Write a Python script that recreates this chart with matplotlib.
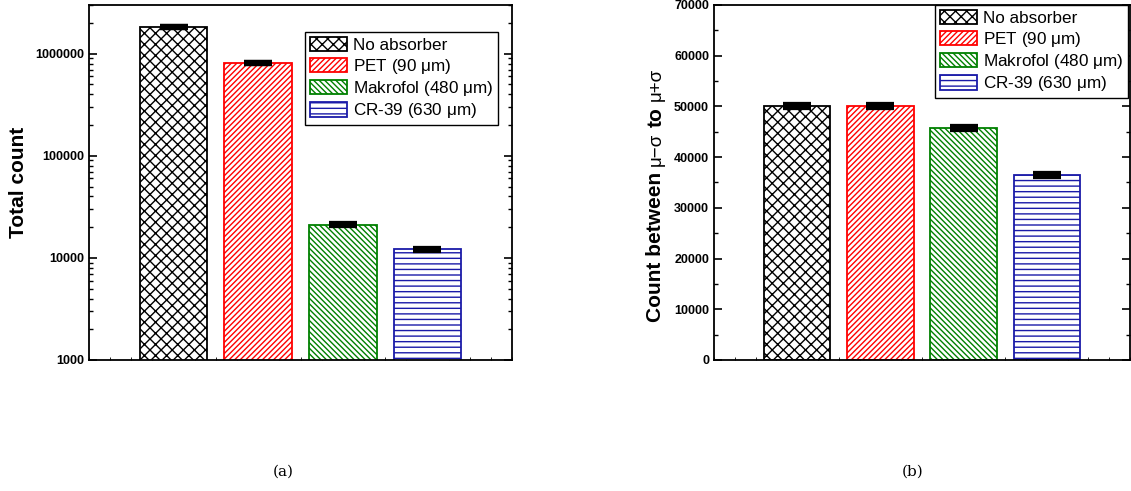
import matplotlib
matplotlib.use("Agg")
import matplotlib.pyplot as plt
from matplotlib.ticker import FixedLocator, MultipleLocator, LogLocator, NullFormatter

plt.rcParams['font.family'] = ['Liberation Sans', 'DejaVu Sans']
plt.rcParams['mathtext.fontset'] = 'custom'
plt.rcParams['mathtext.rm'] = 'Liberation Sans'
plt.rcParams['mathtext.it'] = 'Liberation Sans'
plt.rcParams['hatch.linewidth'] = 1.0

# data
labels = ['No absorber', 'PET (90 $\\mu$m)', 'Makrofol (480 $\\mu$m)', 'CR-39 (630 $\\mu$m)']
total_count = [1810000, 816000, 21100, 12100]
total_err = [1345, 903, 145, 110]
sigma_count = [50100, 50100, 45800, 36450]
sigma_err = [224, 224, 214, 191]

colors = ['black', '#ff0000', '#008000', '#1a1aa8']
hatches = ['xxx', '//////', '\\\\\\\\\\\\', '---']
xpos = [1, 2, 3, 4]

fig = plt.figure(figsize=(11.31, 4.91), dpi=100)
W, H = 1131, 491
ax1 = fig.add_axes([89 / W, 131 / H, 423 / W, 355 / H])
ax2 = fig.add_axes([714 / W, 131 / H, 416 / W, 355 / H])


def draw(ax, vals, errs, anchor):
    for i in range(len(vals)):
        ax.bar(xpos[i], vals[i], width=0.8, color='white', edgecolor=colors[i],
               hatch=hatches[i], linewidth=1.3, label=labels[i], zorder=2)
    ax.errorbar(xpos, vals, yerr=errs, fmt='none', ecolor='black',
                elinewidth=1.5, capsize=10, capthick=4.5, zorder=3)
    ax.set_xlim(0, 5)
    ax.xaxis.set_major_locator(FixedLocator([1, 2, 3, 4]))
    ax.xaxis.set_minor_locator(MultipleLocator(0.25))
    ax.set_xticklabels([])
    ax.tick_params(axis='x', which='both', direction='in', length=0)
    ax.tick_params(axis='x', which='minor', length=2, top=False)
    ax.tick_params(axis='y', which='both', direction='in', right=True, labelsize=9)
    ax.tick_params(axis='y', which='major', length=6, width=1.2)
    ax.tick_params(axis='y', which='minor', length=3, width=1)
    for s in ax.spines.values():
        s.set_linewidth(1.3)
    ax.legend(loc='upper right', bbox_to_anchor=anchor, fontsize=12.3,
              frameon=True, fancybox=False, edgecolor='black', framealpha=1,
              handlelength=2.2, handleheight=0.9, labelspacing=0.2,
              borderpad=0.3, handletextpad=0.3, borderaxespad=0)


# (a) total count, log scale
draw(ax1, total_count, total_err, ((498 - 89) / 423, (360 - 32) / 355))
ax1.set_yscale('log')
ax1.set_ylim(1000, 3e6)
ax1.yaxis.set_minor_locator(LogLocator(base=10, subs=range(2, 10)))
ax1.yaxis.set_minor_formatter(NullFormatter())
ax1.set_yticks([1000, 10000, 100000, 1000000])
ax1.set_yticklabels(['1000', '10000', '100000', '1000000'], fontweight='bold')
ax1.set_ylabel('Total count', fontsize=15, fontweight='bold', labelpad=5)

# (b) count within one sigma
draw(ax2, sigma_count, sigma_err, ((1128 - 714) / 416, 1.0))
ax2.set_ylim(0, 70000)
ax2.yaxis.set_minor_locator(MultipleLocator(5000))
ax2.set_yticks(range(0, 70001, 10000))
ax2.set_yticklabels([str(v) for v in range(0, 70001, 10000)], fontweight='bold')

# y label of (b): bold words mixed with plain symbols, stacked upward
pieces = [('Count between', 15, 'bold', 6), ('\u03bc\u2212\u03c3', 13.5, 'normal', 6),
          ('to', 15, 'bold', 6), ('\u03bc+\u03c3', 13.5, 'normal', 0)]
renderer = fig.canvas.get_renderer()
ycur = 322
for txt, size, weight, gap in pieces:
    t = fig.text(656 / W, 1 - ycur / H, txt, fontsize=size, fontweight=weight,
                 rotation=90, ha='center', va='bottom')
    ext = t.get_window_extent(renderer)
    ycur -= ext.height + gap

fig.text(283 / W, 1 - 472 / H, '(a)', fontsize=11, family='DejaVu Serif',
         ha='center', va='center')
fig.text(913 / W, 1 - 472 / H, '(b)', fontsize=11, family='DejaVu Serif',
         ha='center', va='center')

fig.savefig('out.png', dpi=100)
